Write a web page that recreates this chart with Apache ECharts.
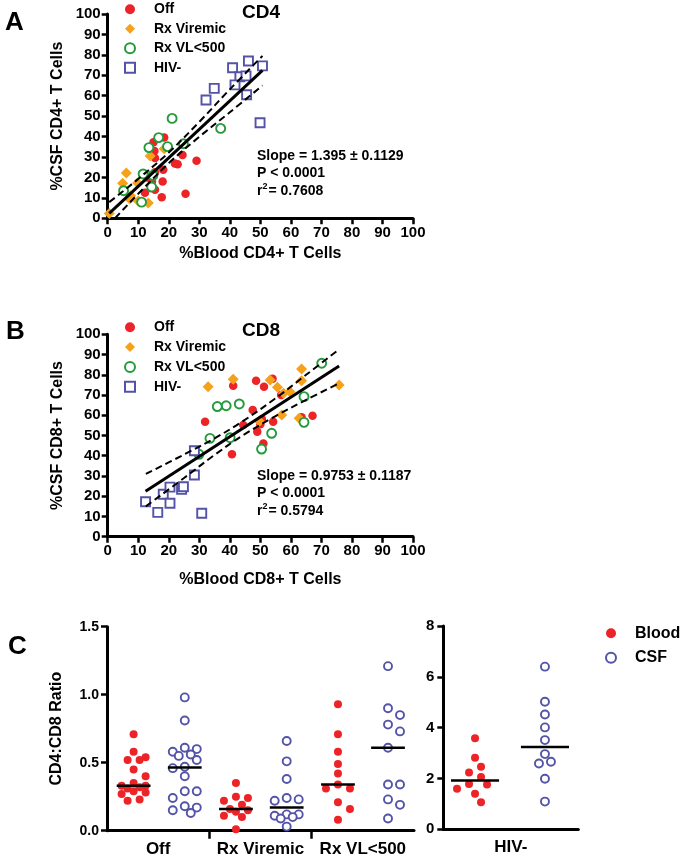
<!DOCTYPE html>
<html><head><meta charset="utf-8">
<script src="https://cdn.jsdelivr.net/npm/echarts@6/dist/echarts.min.js"></script>
<style>html,body{margin:0;padding:0;background:#fff}#c{width:683px;height:862px}</style>
</head><body><div id="c"></div>
<script>
// ---------- DATA ----------
const groupNames = ['Off', 'Rx Viremic', 'Rx VL<500', 'HIV-'];
const axisTicks100 = [0, 10, 20, 30, 40, 50, 60, 70, 80, 90, 100];

// Panel A (CD4): [% Blood CD4+, % CSF CD4+]
const cd4Off = [[15.0,37.2],[18.5,39.5],[15.3,33.0],[15.5,29.5],[24.5,31.0],[29.1,28.2],[22.0,26.8],[22.9,26.5],[18.2,23.8],[15.5,22.5],[18.0,18.0],[15.5,14.0],[12.2,12.5],[17.7,10.3],[25.5,12.0],[14.5,18.0],[13.0,20.0]];
const cd4RxViremic = [[0.5,2.4],[6.1,22.2],[4.9,17.1],[13.9,30.5],[18.5,34.0],[9.8,17.3],[7.2,9.5],[10.0,8.5],[13.3,7.5],[7.5,11.0]];
const cd4RxVL = [[21.1,48.9],[37.0,44.0],[16.7,39.5],[13.5,34.6],[19.6,35.1],[24.8,36.5],[11.6,21.7],[14.8,21.0],[14.4,15.3],[5.2,13.5],[11.1,7.9]];
const cd4HIVneg = [[40.9,73.7],[46.1,77.0],[50.7,74.6],[43.3,69.3],[45.3,69.7],[41.7,65.3],[45.5,60.5],[32.2,57.9],[34.9,63.6],[49.9,46.8]];
const cd4Fit = [[0.5,2.4],[50.7,72.4]];
const cd4Upper = [[0.5,7.9],[5,13.2],[10,19.3],[20,32.2],[30,47.2],[40,63.1],[50.7,79.5]];
const cd4Lower = [[2.4,0],[5,4.2],[10,12.0],[20,27.0],[30,39.9],[40,51.9],[50.7,65.0]];
const cd4Stats = ['1.395', '0.1129', '0.0001', '0.7608'];

// Panel B (CD8)
const cd8Off = [[31.9,56.8],[41.1,74.6],[48.6,77.0],[54.0,78.0],[51.2,74.1],[47.5,62.6],[44.4,55.2],[49.0,51.9],[50.0,55.5],[51.0,46.1],[54.2,56.8],[56.8,70.0],[63.5,59.0],[67.1,59.8],[40.7,40.7],[50.5,58.0]];
const cd8RxViremic = [[32.9,74.1],[41.1,77.8],[53.2,77.4],[55.6,73.8],[57.6,70.9],[59.7,71.6],[63.5,82.9],[63.5,77.0],[75.8,75.0],[57.0,60.1],[62.7,58.5],[49.7,57.0]];
const cd8RxVL = [[70.1,85.7],[64.3,69.2],[64.3,56.5],[53.7,51.1],[50.4,43.3],[43.1,65.6],[38.8,64.7],[35.9,64.3],[33.5,48.6],[40.1,48.9],[29.9,40.7]];
const cd8HIVneg = [[12.4,17.3],[16.4,12.0],[18.2,21.0],[20.4,24.5],[20.4,16.5],[24.2,23.4],[24.8,24.7],[28.4,42.5],[28.4,30.5],[30.8,11.6]];
const cd8Fit = [[12.4,22.5],[75.8,84.3]];
const cd8Upper = [[12.5,31.0],[25,40.6],[35,48.6],[44,56.8],[55,68.4],[65,80.0],[75.8,92.6]];
const cd8Lower = [[12.5,15.0],[25,29.0],[35,40.4],[44,49.8],[55,59.6],[65,67.6],[75.8,75.8]];
const cd8Stats = ['0.9753', '0.1187', '0.0001', '0.5794'];

// Panel C: CD4:CD8 ratio
const ratioBloodOff = [0.71,0.58,0.54,0.52,0.52,0.45,0.40,0.35,0.33,0.33,0.32,0.31,0.29,0.28,0.27,0.23,0.22];
const ratioCsfOff = [0.98,0.81,0.61,0.60,0.58,0.56,0.55,0.52,0.47,0.46,0.40,0.29,0.29,0.24,0.18,0.17,0.15,0.13];
const ratioBloodRxViremic = [0.35,0.25,0.24,0.22,0.19,0.16,0.15,0.14,0.11,0.10,0.01];
const ratioCsfRxViremic = [0.66,0.51,0.38,0.24,0.23,0.22,0.12,0.12,0.11,0.10,0.09,0.03];
const ratioBloodRxVL = [0.93,0.71,0.58,0.49,0.42,0.34,0.31,0.31,0.21,0.16,0.08];
const ratioCsfRxVL = [1.21,0.90,0.85,0.78,0.73,0.61,0.34,0.34,0.23,0.19,0.09];
const ratioBloodHIVneg = [3.58,2.82,2.46,2.24,2.06,1.78,1.76,1.60,1.40,1.06];
const ratioCsfHIVneg = [6.40,5.02,4.52,4.01,3.51,2.96,2.66,2.59,1.99,1.09];

// ---------- STYLE / LAYOUT ----------
const FONT = '"Liberation Sans", Arial, Helvetica, sans-serif';
const RED = '#EC2427', ORANGE = '#F7A11A', GREEN = '#239B3C', BLUE = '#5353A8';
const G = [
  {left:107.7, top:14, width:305.3, height:204.3},
  {left:107.7, top:334.3, width:305.3, height:202.4},
  {left:107, top:626.7, width:307, height:204},
  {left:443.3, top:626, width:135, height:203.3}
];

function median(a){const s=a.slice().sort((x,y)=>x-y);const n=s.length;return n%2?s[(n-1)/2]:(s[n/2-1]+s[n/2])/2;}
// beeswarm layout (pixel-based collision avoidance, capped width), returns [xUnits, value]
function swarm(values, center, pxX, pxY, diam, step, maxOff){
  const placed=[], out=[];
  values.slice().sort((a,b)=>b-a).forEach(v=>{
    const y=v*pxY; let off=null, bestOff=0, bestD=-1;
    for(let k=0;k<60;k++){
      const o = k===0?0:((k%2)?1:-1)*Math.ceil(k/2)*step;
      if(Math.abs(o)>maxOff) break;
      const dmin = placed.reduce((m,p)=>Math.min(m,Math.hypot(p[0]-o,p[1]-y)),Infinity);
      if(dmin>=diam){off=o;break;}
      if(dmin>bestD){bestD=dmin;bestOff=o;}
    }
    if(off===null) off=bestOff;
    placed.push([off,y]); out.push([center+off/pxX, v]);
  });
  return out;
}
const pxXL = G[2].width/3, pxYL = G[2].height/1.5, pxXR = G[3].width/1, pxYR = G[3].height/8;
const bloodCentersL=[0.26,1.26,2.257], csfCentersL=[0.76,1.756,2.746];
const bloodCenterR=0.235, csfCenterR=0.753;
const bloodLeftSets=[ratioBloodOff, ratioBloodRxViremic, ratioBloodRxVL];
const csfLeftSets=[ratioCsfOff, ratioCsfRxViremic, ratioCsfRxVL];
const D=9.5, STEP=6, MAXOFF=15;
let bloodLeft=[], csfLeft=[];
bloodLeftSets.forEach((s,i)=>{bloodLeft=bloodLeft.concat(swarm(s,bloodCentersL[i],pxXL,pxYL,D,STEP,MAXOFF));});
csfLeftSets.forEach((s,i)=>{csfLeft=csfLeft.concat(swarm(s,csfCentersL[i],pxXL,pxYL,D,STEP,MAXOFF));});
const bloodRight=swarm(ratioBloodHIVneg,bloodCenterR,pxXR,pxYR,D,STEP,MAXOFF+6);
const csfRight=swarm(ratioCsfHIVneg,csfCenterR,pxXR,pxYR,D,STEP,MAXOFF+6);

const axisLineStyle={lineStyle:{color:'#000',width:3}};
const tickStyle={show:true,inside:false,length:6,lineStyle:{color:'#000',width:2.5}};
const lblStyle={color:'#000',fontFamily:FONT,fontWeight:'bold',fontSize:15};

function valAxis(gi,min,max,interval,extra){
  return Object.assign({type:'value',gridIndex:gi,min,max,interval,splitLine:{show:false},
    axisLine:Object.assign({onZero:false},axisLineStyle),axisTick:tickStyle,
    axisLabel:Object.assign({margin:7},lblStyle),
    nameTextStyle:{color:'#000',fontFamily:FONT,fontWeight:'bold',fontSize:16}},extra||{});
}

const xAxes=[
  valAxis(0,0,100,10,{name:'%Blood CD4+ T Cells',nameLocation:'middle',nameGap:27}),
  valAxis(1,0,100,10,{name:'%Blood CD8+ T Cells',nameLocation:'middle',nameGap:35}),
  valAxis(2,0,3,1,{axisTick:Object.assign({},tickStyle,{length:8,customValues:[1,2]}),
    axisLabel:Object.assign({},lblStyle,{fontSize:17,margin:10,customValues:[0.5,1.5,2.5],formatter:v=>groupNames[Math.floor(v)]})}),
  valAxis(3,0,1,1,{axisTick:{show:false},
    axisLabel:Object.assign({},lblStyle,{fontSize:17,margin:10,customValues:[0.5],formatter:v=>groupNames[3]})})
];
const yAxes=[
  valAxis(0,0,100,10,{name:'%CSF CD4+ T Cells',nameLocation:'middle',nameGap:42}),
  valAxis(1,0,100,10,{name:'%CSF CD8+ T Cells',nameLocation:'middle',nameGap:42}),
  valAxis(2,0,1.5,0.5,{name:'CD4:CD8 Ratio',nameLocation:'middle',nameGap:42,
    axisLabel:Object.assign({},lblStyle,{fontSize:14,margin:8,formatter:v=>v.toFixed(1)})}),
  valAxis(3,0,8,2,{axisLabel:Object.assign({},lblStyle,{fontSize:15,margin:9})})
];

function sc(name,gi,data,symbol,size,fill,stroke,z){
  return {type:'scatter',name,xAxisIndex:gi,yAxisIndex:gi,data,symbol,symbolSize:size,z:z||2,
    itemStyle:{color:fill,borderColor:stroke,borderWidth:stroke?1.9:0,opacity:1},emphasis:{disabled:true}};
}
function ln(gi,data,dashed){
  return {type:'line',xAxisIndex:gi,yAxisIndex:gi,data,symbol:'none',smooth:dashed?0.35:false,z:5,silent:true,
    lineStyle:{color:'#000',width:dashed?2:3,type:dashed?[7,4]:'solid'}};
}
function medLine(gi,center,vals,half){
  const m=median(vals);
  return {type:'line',xAxisIndex:gi,yAxisIndex:gi,data:[[center-half,m],[center+half,m]],symbol:'none',z:6,silent:true,
    lineStyle:{color:'#000',width:2.5}};
}

const series=[];
[[0,cd4Off,cd4RxViremic,cd4RxVL,cd4HIVneg,cd4Fit,cd4Upper,cd4Lower],[1,cd8Off,cd8RxViremic,cd8RxVL,cd8HIVneg,cd8Fit,cd8Upper,cd8Lower]].forEach(p=>{
  const gi=p[0];
  series.push(sc('Off',gi,p[1],'circle',8.5,RED,null,2));
  series.push(sc('Rx Viremic',gi,p[2],'diamond',11,ORANGE,null,3));
  series.push(sc('Rx VL<500',gi,p[3],'circle',9,'#fff',GREEN,4));
  series.push(sc('HIV-',gi,p[4],'rect',9,'#fff',BLUE,4));
  series.push(ln(gi,p[5],false));
  series.push(ln(gi,p[6],true));
  series.push(ln(gi,p[7],true));
});
series.push(sc('Blood',2,bloodLeft,'circle',8,RED,null,2));
series.push(sc('CSF',2,csfLeft,'circle',8,'#fff',BLUE,2));
series.push(sc('Blood',3,bloodRight,'circle',8,RED,null,2));
series.push(sc('CSF',3,csfRight,'circle',8,'#fff',BLUE,2));
bloodLeftSets.forEach((s,i)=>series.push(medLine(2,bloodCentersL[i],s,0.165)));
csfLeftSets.forEach((s,i)=>series.push(medLine(2,csfCentersL[i],s,0.165)));
series.push(medLine(3,bloodCenterR,ratioBloodHIVneg,0.178));
series.push(medLine(3,csfCenterR,ratioCsfHIVneg,0.178));

const tBase={fontFamily:FONT,fontWeight:'bold',color:'#000'};
function statText(s){return 'Slope = '+s[0]+' \u00b1 '+s[1]+'\nP < '+s[2]+'\nr{sup|2}= '+s[3];}
const statStyle=Object.assign({fontSize:14,lineHeight:17.5,rich:{sup:Object.assign({},tBase,{fontSize:9,verticalAlign:'top',lineHeight:12,padding:[0,1,6,0]})}},tBase);
const titles=[
  {text:'A',left:5,top:10,padding:0,textStyle:Object.assign({fontSize:26},tBase)},
  {text:'B',left:6,top:319,padding:0,textStyle:Object.assign({fontSize:26},tBase)},
  {text:'C',left:8,top:634,padding:0,textStyle:Object.assign({fontSize:26},tBase)},
  {text:'CD4',left:242,top:3,padding:0,textStyle:Object.assign({fontSize:19},tBase)},
  {text:'CD8',left:242,top:321,padding:0,textStyle:Object.assign({fontSize:19},tBase)},
  {text:statText(cd4Stats),left:257,top:147,padding:0,textStyle:statStyle},
  {text:statText(cd8Stats),left:257,top:467,padding:0,textStyle:statStyle}
];
function legend(top,names,gap,fs){
  return {orient:'vertical',left:124,top,padding:0,itemWidth:10,itemHeight:10,itemGap:gap,data:names,selectedMode:false,
    textStyle:Object.assign({fontSize:fs,lineHeight:fs,padding:[0,0,0,14]},tBase)};
}
const legends=[
  legend(2.3,groupNames,5.5,14),
  legend(320.3,groupNames,5.8,14),
  Object.assign(legend(625.3,['Blood','CSF'],8.4,16),{left:605})
];

const chart=echarts.init(document.getElementById('c'),null,{renderer:'canvas'});
chart.setOption({
  animation:false,backgroundColor:'#fff',
  textStyle:{fontFamily:FONT},
  title:titles,legend:legends,grid:G,xAxis:xAxes,yAxis:yAxes,series
});
</script></body></html>
